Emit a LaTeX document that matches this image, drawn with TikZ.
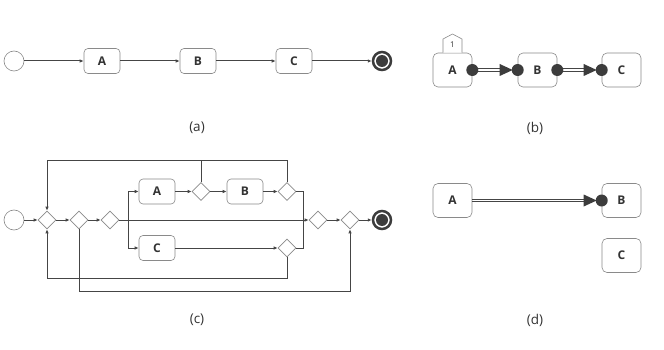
\documentclass[tikz,border=0pt]{standalone}
\usepackage{fontspec}
\setmainfont{Open Sans}
\usetikzlibrary{shapes.geometric,arrows.meta}
\definecolor{boxgray}{HTML}{8A8A8A}
\definecolor{linegray}{HTML}{454545}
\definecolor{txt}{HTML}{333333}
\definecolor{dot}{HTML}{3C3C3C}
\begin{document}
\begin{tikzpicture}[x=1pt,y=-1pt,
  box/.style={draw=boxgray, rounded corners=4pt, minimum width=36pt, minimum height=25pt, inner sep=0pt, font=\bfseries\fontsize{12}{14}\selectfont, text=txt, line width=0.6pt},
  bbox/.style={box, minimum width=39pt, minimum height=34pt, rounded corners=5pt},
  gw/.style={draw=boxgray, diamond, minimum width=18pt, minimum height=18pt, inner sep=0pt, line width=0.6pt},
  startev/.style={draw=boxgray, circle, minimum size=20pt, inner sep=0pt, line width=0.6pt},
  endev/.style={draw=dot, circle, minimum size=18pt, inner sep=0pt, line width=2.5pt},
  flow/.style={draw=linegray, line width=1pt, -{Latex[length=4pt,width=3.5pt]}},
  plain/.style={draw=linegray, line width=1pt},
  thin/.style={draw=linegray, line width=0.75pt},
  captxt/.style={font=\fontsize{13.5}{15}\selectfont, text=txt},
  tagshape/.style={draw=boxgray, line width=0.6pt}
]
\useasboundingbox (0,0) rectangle (664,350);
\fill[white] (0,0) rectangle (664,350);

% ---------- (a)
\node[startev] (as) at (14,61) {};
\node[box] (aA) at (102,61) {A};
\node[box] (aB) at (198,61) {B};
\node[box] (aC) at (294,61) {C};
\node[endev] (ae) at (382,61) {};
\fill[dot] (ae.center) circle (6);
\draw[flow] (as) -- (aA);
\draw[flow] (aA) -- (aB);
\draw[flow] (aB) -- (aC);
\draw[flow] (aC) -- (ae);
\node[captxt] (capa) at (197,128) {(a)};

% ---------- (b)
\node[bbox] (bA) at (452.5,70) {A};
\node[bbox] (bB) at (537.5,70) {B};
\node[bbox] (bC) at (621.5,70) {C};
\draw[tagshape, fill=white] ([xshift=-9.5pt]bA.north) -- (443,39) -- (452.5,34) -- (462,39) -- ([xshift=9.5pt]bA.north);
\node[font=\fontsize{8}{9}\selectfont, text=txt] (btag) at (452.5,45) {1};
\draw[thin] ([yshift=-1.2pt]bA.east) -- ([xshift=-16pt,yshift=-1.2pt]bB.west);
\draw[thin] ([yshift=1.2pt]bA.east) -- ([xshift=-16pt,yshift=1.2pt]bB.west);
\fill[dot] ([xshift=-18pt,yshift=-6pt]bB.west) -- ([xshift=-5pt]bB.west) -- ([xshift=-18pt,yshift=6pt]bB.west) -- cycle;
\fill[dot] (bA.east) circle (6);
\fill[dot] (bB.west) circle (6);
\draw[thin] ([yshift=-1.2pt]bB.east) -- ([xshift=-16pt,yshift=-1.2pt]bC.west);
\draw[thin] ([yshift=1.2pt]bB.east) -- ([xshift=-16pt,yshift=1.2pt]bC.west);
\fill[dot] ([xshift=-18pt,yshift=-6pt]bC.west) -- ([xshift=-5pt]bC.west) -- ([xshift=-18pt,yshift=6pt]bC.west) -- cycle;
\fill[dot] (bB.east) circle (6);
\fill[dot] (bC.west) circle (6);
\node[captxt] (capb) at (535,128) {(b)};

% ---------- (c)
\node[startev] (cs) at (14,220) {};
\node[gw] (g1) at (47,220) {};
\node[gw] (g2) at (79,220) {};
\node[gw] (g3) at (110,220) {};
\node[box] (cA) at (157,191.5) {A};
\node[gw] (ga) at (201,191.5) {};
\node[box] (cB) at (245,191.5) {B};
\node[gw] (gb) at (287,191.5) {};
\node[box] (cC) at (157,248) {C};
\node[gw] (gc) at (287,248) {};
\node[gw] (gj) at (318,220) {};
\node[gw] (gf) at (350,220) {};
\node[endev] (ce) at (382,220) {};
\fill[dot] (ce.center) circle (6);
\coordinate (split) at (128,220);
\coordinate (top) at (47,161);
\coordinate (rj) at (303,220);
\coordinate (bot1) at (47,278);
\coordinate (bot2) at (350,291);
\draw[flow] (cs) -- (g1);
\draw[flow] (g1) -- (g2);
\draw[flow] (g2) -- (g3);
\draw[flow] (g3.east) -- (gj.west);
\draw[flow] (split) |- (cA.west);
\draw[flow] (split) |- (cC.west);
\draw[flow] (cA) -- (ga);
\draw[flow] (ga) -- (cB);
\draw[flow] (cB) -- (gb);
\draw[flow] (cC) -- (gc);
\draw[flow] (gb.north) |- (top) -- (g1.north);
\draw[plain] (ga.north) -- (ga.north |- top);
\draw[plain] (gb.east) -| (rj);
\draw[plain] (gc.east) -| (rj);
\draw[flow] (gc.south) |- (bot1) -- (g1.south);
\draw[flow] (g2.south) |- (bot2) -- (gf.south);
\draw[flow] (gj) -- (gf);
\draw[flow] (gf) -- (ce);
\node[captxt] (capc) at (197,320) {(c)};

% ---------- (d)
\node[bbox] (dA) at (452.5,200.5) {A};
\node[bbox] (dB) at (621.5,200.5) {B};
\node[bbox] (dC) at (621.5,255.5) {C};
\draw[thin] ([yshift=-1.2pt]dA.east) -- ([xshift=-16pt,yshift=-1.2pt]dB.west);
\draw[thin] ([yshift=1.2pt]dA.east) -- ([xshift=-16pt,yshift=1.2pt]dB.west);
\fill[dot] ([xshift=-18pt,yshift=-6pt]dB.west) -- ([xshift=-5pt]dB.west) -- ([xshift=-18pt,yshift=6pt]dB.west) -- cycle;
\fill[dot] (dB.west) circle (6);
\node[captxt] (capd) at (535,320) {(d)};
\end{tikzpicture}
\end{document}
